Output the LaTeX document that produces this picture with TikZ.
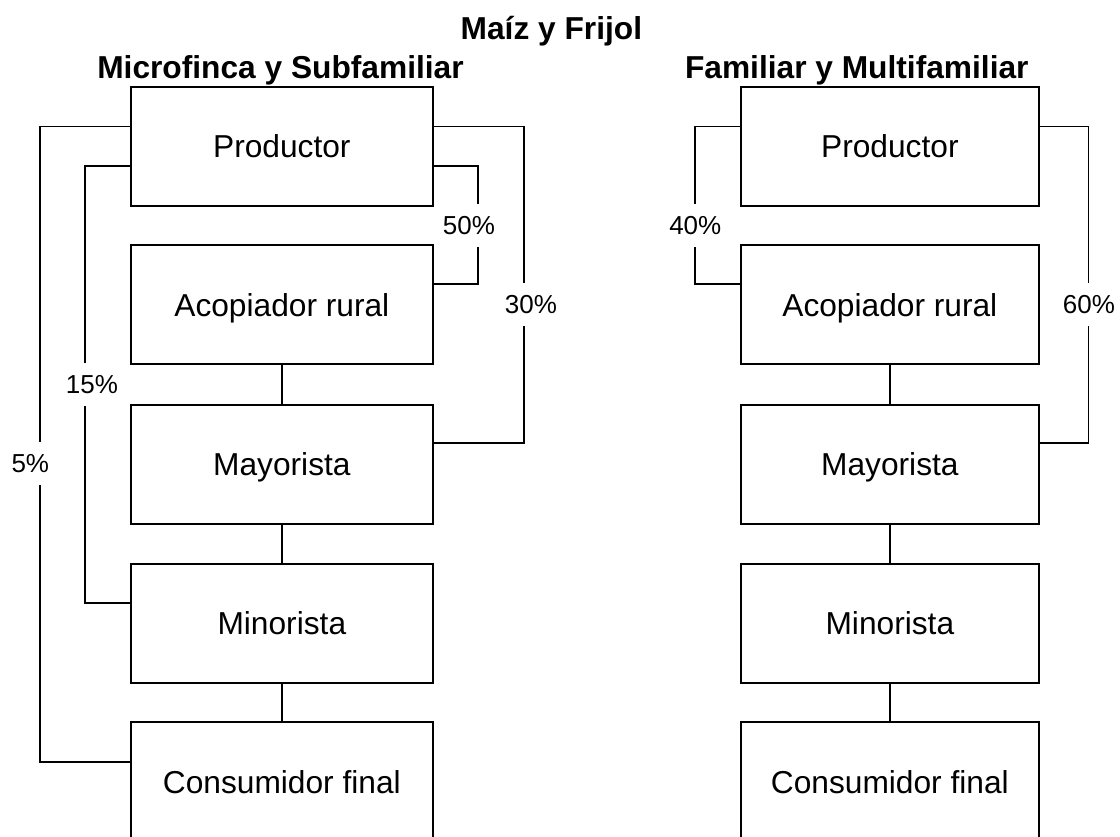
\documentclass[tikz,border=0pt]{standalone}
\usepackage{fontspec}
\setmainfont{Liberation Sans}
\begin{document}
\begin{tikzpicture}[x=1pt,y=-1pt,
  boxL/.style={draw, line width=1.7pt, minimum width=302.3pt, minimum height=119pt, inner sep=0pt,
    text height=22.7pt, text depth=0pt, font=\fontsize{31.7}{36}\selectfont},
  boxR/.style={boxL, minimum width=298.3pt},
  conn/.style={line width=1.7pt, line join=miter},
  pct/.style={fill=white, inner xsep=1pt, inner ysep=11.9pt, text height=18.6pt, text depth=0pt,
    font=\fontsize{26}{30}\selectfont},
  ttl/.style={anchor=base, inner sep=0pt, font=\fontsize{31.7}{36}\selectfont\bfseries}
]
\useasboundingbox (0,0) rectangle (1120,837);
\clip (0,0) rectangle (1120,837);

% titles
\node[ttl] (t0) at (551.4,40) {Maíz y Frijol};
\node[ttl] (t1) at (280.5,79) {Microfinca y Subfamiliar};
\node[ttl] (t2) at (856.8,79) {Familiar y Multifamiliar};

% left column
\node[boxL] (p1) at (281.85,146.2) {Productor};
\node[boxL] (a1) at (281.85,304.7) {Acopiador rural};
\node[boxL] (m1) at (281.85,464.2) {Mayorista};
\node[boxL] (n1) at (281.85,623.3) {Minorista};
\node[boxL] (c1) at (281.85,781.8) {Consumidor final};

% right column
\node[boxR] (p2) at (889.85,146.2) {Productor};
\node[boxR] (a2) at (889.85,304.7) {Acopiador rural};
\node[boxR] (m2) at (889.85,464.2) {Mayorista};
\node[boxR] (n2) at (889.85,623.3) {Minorista};
\node[boxR] (c2) at (889.85,781.8) {Consumidor final};

% vertical chain connectors
\draw[conn] (a1.south) -- (m1.north);
\draw[conn] (m1.south) -- (n1.north);
\draw[conn] (n1.south) -- (c1.north);
\draw[conn] (a2.south) -- (m2.north);
\draw[conn] (m2.south) -- (n2.north);
\draw[conn] (n2.south) -- (c2.north);

% left bypass connectors
\draw[conn] ([yshift=19.8pt]p1.west) -- ++(-89.7,0) |- ([yshift=20pt]c1.west);
\draw[conn] ([yshift=-19.8pt]p1.west) -- ++(-44.7,0) |- ([yshift=20.5pt]n1.west);
\draw[conn] ([yshift=-19.8pt]p1.east) -- ++(44,0) |- ([yshift=20.4pt]a1.east);
\draw[conn] ([yshift=19.8pt]p1.east) -- ++(90.3,0) |- ([yshift=20.9pt]m1.east);

% right bypass connectors
\draw[conn] ([yshift=19.8pt]p2.west) -- ++(-45,0) |- ([yshift=20.4pt]a2.west);
\draw[conn] ([yshift=19.8pt]p2.east) -- ++(48.7,0) |- ([yshift=20.9pt]m2.east);

% percentage labels
\node[pct] (l50) at (469,225.5) {50\%};
\node[pct] (l30) at (531,304.5) {30\%};
\node[pct] (l15) at (92,384.5) {15\%};
\node[pct] (l5) at (30.3,463.4) {5\%};
\node[pct] (l40) at (695.3,225.5) {40\%};
\node[pct] (l60) at (1089,304.5) {60\%};
\end{tikzpicture}
\end{document}
